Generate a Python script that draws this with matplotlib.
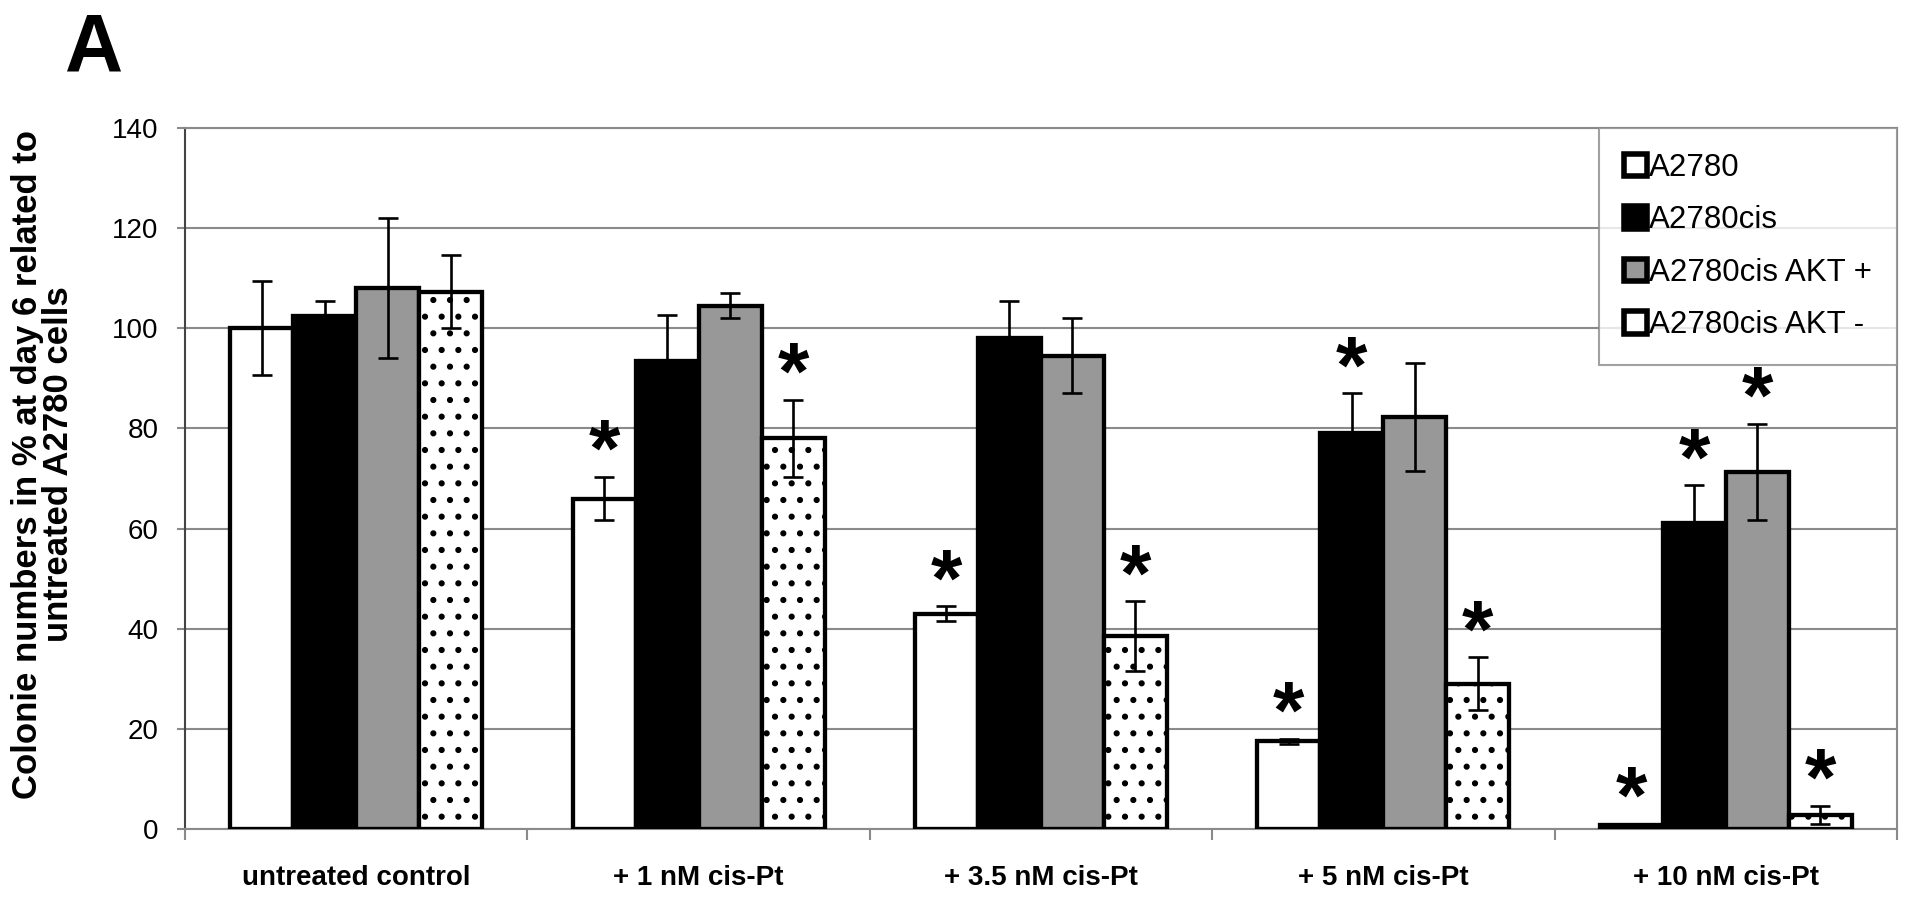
import numpy as np
import matplotlib.pyplot as plt
from matplotlib.ticker import FixedLocator

plt.rcParams['font.family'] = ['Liberation Sans', 'DejaVu Sans']
plt.rcParams['hatch.linewidth'] = 2.0

# data
categories = ["untreated control", "+ 1 nM cis-Pt", "+ 3.5 nM cis-Pt",
              "+ 5 nM cis-Pt", "+ 10 nM cis-Pt"]
series_names = ["A2780", "A2780cis", "A2780cis AKT +", "A2780cis AKT -"]

a2780 = [100.0, 66.0, 43.0, 17.5, 0.7]
a2780_err = [9.4, 4.3, 1.5, 0.5, 0.3]
a2780cis = [102.5, 93.5, 98.0, 79.0, 61.1]
a2780cis_err = [3.0, 9.2, 7.5, 8.0, 7.5]
akt_plus = [108.0, 104.5, 94.5, 82.3, 71.3]
akt_plus_err = [14.0, 2.5, 7.5, 10.8, 9.6]
akt_minus = [107.3, 78.0, 38.5, 29.0, 2.8]
akt_minus_err = [7.3, 7.7, 7.0, 5.3, 1.8]

# significance stars per series
a2780_sig = [False, True, True, True, True]
a2780cis_sig = [False, False, False, True, True]
akt_plus_sig = [False, False, False, False, True]
akt_minus_sig = [False, True, True, True, True]

values = [a2780, a2780cis, akt_plus, akt_minus]
errors = [a2780_err, a2780cis_err, akt_plus_err, akt_minus_err]
sigs = [a2780_sig, a2780cis_sig, akt_plus_sig, akt_minus_sig]
fills = ["white", "black", "#989898", "white"]
hatches = [None, None, None, "."]

fig = plt.figure(figsize=(19.13, 9.05), dpi=100)
ax = fig.add_axes([0.0967, 0.084, 0.8949, 0.7746])

x = np.arange(len(categories))
width = 0.184

for i, (vals, errs, sig) in enumerate(zip(values, errors, sigs)):
    pos = x + (i - 1.5) * width
    ax.bar(pos, vals, width, color=fills[i], edgecolor="black", linewidth=3.1,
           hatch=hatches[i], label=series_names[i], zorder=3)
    ax.errorbar(pos, vals, yerr=errs, fmt="none", ecolor="black",
                elinewidth=1.9, capsize=7.5, capthick=1.9, zorder=4)
    for p, v, e, s in zip(pos, vals, errs, sig):
        if s:
            ax.text(p, v + e + 4.4, "*", ha="center", va="center",
                    fontsize=58, fontweight="bold", zorder=5)

ax.set_xlim(-0.5, len(categories) - 0.5)
ax.set_ylim(0, 140)
ax.set_yticks(np.arange(0, 141, 20))
ax.yaxis.grid(True, color="#8a8a8a", linewidth=1.5, zorder=0)
ax.set_axisbelow(True)
ax.tick_params(axis="y", labelsize=20, length=6, width=1.5, color="#8a8a8a", pad=13)

ax.set_xticks(x)
ax.set_xticklabels(categories, fontsize=20, fontweight="bold")
ax.tick_params(axis="x", which="major", length=0, pad=26)
ax.xaxis.set_minor_locator(FixedLocator(np.arange(-0.5, len(categories), 1.0)))
ax.tick_params(axis="x", which="minor", length=8, width=1.5, color="#8a8a8a")

for side in ["top", "right", "bottom"]:
    ax.spines[side].set_color("#8a8a8a")
    ax.spines[side].set_linewidth(1.5)
ax.spines["left"].set_color("#444444")
ax.spines["left"].set_linewidth(1.5)

leg = ax.legend(loc="upper right", bbox_to_anchor=(1.0, 1.0), fontsize=22.5,
                frameon=True, fancybox=False, borderaxespad=0,
                handlelength=0.72, handleheight=0.72, handletextpad=0.08,
                labelspacing=0.72, borderpad=0.8)
leg.get_frame().set_edgecolor("#8a8a8a")
leg.get_frame().set_linewidth(1.5)
leg.set_zorder(6)
for h in leg.get_patches():
    h.set_linewidth(4.0)
    h.set_hatch(None)

fig.text(0.0225, 0.487, "Colonie numbers in % at day 6 related to\nuntreated A2780 cells",
         rotation=90, ha="center", va="center", fontsize=25, fontweight="bold",
         linespacing=0.9)
fig.text(0.034, 0.987, "A", ha="left", va="top", fontsize=58, fontweight="bold")

fig.savefig("out.png", dpi=100)
